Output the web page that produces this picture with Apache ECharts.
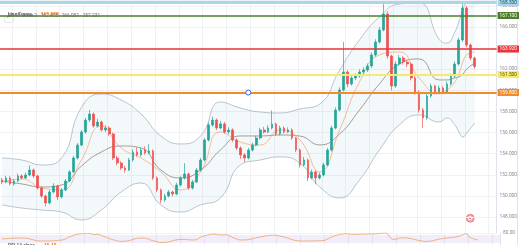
<!DOCTYPE html>
<html>
<head>
<meta charset="utf-8">
<script src="https://cdn.jsdelivr.net/npm/echarts@6/dist/echarts.min.js"></script>
<style>
  html, body { margin: 0; padding: 0; background: #fff; }
  .chart { width: 520px; height: 245px; }
</style>
</head>
<body>
<div class="chart"></div>
<script>
// candles (one per bar, left to right)
const opens = [
  151.50, 151.32, 151.70, 151.13, 151.41, 151.89, 151.70, 151.98, 152.45, 151.89,
  150.75, 149.99, 149.33, 150.37, 150.94, 149.90, 150.56, 151.41, 152.27, 153.59,
  154.82, 156.06, 157.19, 157.76, 156.63, 157.00, 156.25, 156.44, 155.87, 153.59,
  153.12, 152.64, 152.45, 153.40, 154.16, 153.88, 154.35, 154.07, 154.26, 151.70,
  150.56, 149.61, 149.99, 150.37, 150.18, 151.03, 151.70, 152.08, 150.75, 151.32,
  152.45, 153.40, 155.30, 156.72, 157.19, 156.44, 156.82, 156.06, 156.25, 155.30,
  154.54, 153.88, 153.59, 154.35, 154.82, 155.49, 156.25, 156.06, 156.44, 156.82,
  155.87, 156.44, 156.06, 156.25, 155.49, 154.35, 152.93, 153.40, 151.70, 152.27,
  151.70, 151.98, 152.93, 154.35, 156.44, 158.14, 160.04, 161.74, 160.61, 161.18,
  161.36, 161.74, 161.93, 162.31, 163.36, 164.59, 165.73, 167.24, 163.26, 160.42,
  162.50, 163.07, 162.69, 162.50, 161.18, 159.85, 158.14, 157.38, 159.47, 160.42,
  159.85, 160.23, 159.85, 160.61, 161.36, 162.50, 164.78, 167.81, 164.30, 163.07
];
const closes = [
  151.32, 151.70, 151.13, 151.41, 151.89, 151.70, 151.98, 152.45, 151.89, 150.75,
  149.99, 149.33, 150.37, 150.94, 149.90, 150.56, 151.41, 152.27, 153.59, 154.82,
  156.06, 157.19, 157.76, 156.63, 157.00, 156.25, 156.44, 155.87, 153.59, 153.12,
  152.64, 152.45, 153.40, 154.16, 153.88, 154.35, 154.07, 154.26, 151.70, 150.56,
  149.61, 149.99, 150.37, 150.18, 151.03, 151.70, 152.08, 150.75, 151.32, 152.45,
  153.40, 155.30, 156.72, 157.19, 156.44, 156.82, 156.06, 156.25, 155.30, 154.54,
  153.88, 153.59, 154.35, 154.82, 155.49, 156.25, 156.06, 156.44, 156.82, 155.87,
  156.44, 156.06, 156.25, 155.49, 154.35, 152.93, 153.40, 151.70, 152.27, 151.70,
  151.98, 152.93, 154.35, 156.44, 158.14, 160.04, 161.74, 160.61, 161.18, 161.36,
  161.74, 161.93, 162.31, 163.36, 164.59, 165.73, 167.24, 163.26, 160.42, 162.50,
  163.07, 162.69, 162.50, 161.18, 159.85, 158.14, 157.38, 159.47, 160.42, 159.85,
  160.23, 159.85, 160.61, 161.36, 162.50, 164.78, 167.81, 164.30, 163.07, 162.26
];
const highs = [
  151.70, 151.90, 151.85, 151.60, 152.10, 152.05, 152.20, 152.90, 152.60, 152.00,
  150.90, 150.10, 150.55, 151.20, 151.05, 150.75, 151.60, 152.45, 153.80, 155.00,
  156.25, 157.40, 158.15, 157.90, 157.30, 157.15, 156.70, 156.60, 156.00, 153.80,
  153.30, 152.85, 153.60, 154.40, 154.60, 154.55, 154.70, 154.90, 154.40, 151.85,
  150.70, 150.20, 150.55, 150.50, 151.25, 151.90, 153.10, 152.20, 151.50, 152.65,
  153.60, 155.50, 156.95, 157.50, 157.35, 157.10, 157.00, 156.50, 156.40, 155.45,
  154.70, 154.05, 154.55, 155.05, 155.70, 156.45, 156.55, 156.70, 158.10, 156.95,
  156.65, 156.60, 156.50, 156.40, 155.60, 154.50, 153.70, 153.55, 152.50, 152.40,
  152.20, 153.15, 154.55, 156.65, 158.40, 160.30, 164.60, 161.90, 161.45, 161.60,
  162.00, 162.20, 162.55, 163.60, 164.85, 166.00, 168.28, 167.50, 163.40, 162.75,
  163.35, 163.25, 162.90, 162.65, 161.35, 160.00, 158.35, 159.70, 160.65, 160.55,
  160.45, 160.40, 160.85, 161.60, 162.75, 165.00, 168.38, 168.00, 164.45, 163.20
];
const lows = [
  151.10, 151.20, 151.00, 150.95, 151.30, 151.55, 151.60, 151.85, 151.70, 150.60,
  149.80, 149.00, 149.20, 150.25, 149.60, 149.75, 150.45, 151.30, 152.15, 153.45,
  154.70, 155.90, 157.00, 156.45, 156.50, 156.10, 156.05, 155.70, 153.40, 152.90,
  152.45, 152.20, 152.35, 153.25, 153.70, 153.75, 153.90, 153.95, 151.50, 150.35,
  149.30, 149.45, 149.85, 149.95, 150.05, 150.90, 151.55, 150.55, 150.60, 151.20,
  152.30, 153.25, 155.15, 156.55, 156.25, 156.30, 155.90, 155.85, 155.10, 154.35,
  153.50, 153.20, 153.45, 154.20, 154.70, 155.35, 155.90, 155.95, 156.30, 155.70,
  155.75, 155.90, 155.95, 155.30, 154.15, 152.70, 152.80, 151.40, 151.55, 151.10,
  151.55, 151.85, 152.80, 154.20, 156.30, 158.00, 159.90, 160.30, 160.45, 161.00,
  161.20, 161.55, 161.75, 162.15, 163.20, 164.45, 165.60, 163.00, 160.00, 160.25,
  162.35, 162.45, 162.20, 160.95, 159.60, 157.90, 156.45, 157.20, 159.30, 159.60,
  159.70, 159.65, 159.70, 160.45, 161.20, 162.35, 164.60, 164.10, 162.85, 162.05
];

// bollinger band + fast average, sampled at these bar indices
const bandIdx = [0, 5, 10, 15, 20, 25, 30, 35, 40, 45, 50, 55, 60, 65, 70, 75, 80, 85, 90, 95, 100, 105, 110, 112, 114, 115, 116, 117, 119];
const bbUpper = [153.59, 153.40, 152.93, 153.59, 158.39, 159.66, 159.09, 157.76, 155.68, 154.92, 155.68, 158.90, 158.33, 157.95, 157.86, 158.24, 158.71, 161.93, 164.78, 166.96, 168.19, 168.28, 164.87, 164.49, 165.54, 166.48, 167.62, 168.28, 168.38];
const bbLower = [149.14, 148.85, 148.66, 148.47, 147.72, 148.66, 150.37, 151.22, 149.14, 148.47, 149.14, 149.80, 152.93, 153.40, 153.69, 153.10, 150.84, 149.80, 151.51, 154.35, 156.72, 157.67, 157.00, 157.38, 156.72, 156.06, 155.58, 155.96, 156.91];
const bbBasis = [151.41, 151.13, 150.84, 151.03, 152.83, 154.16, 154.73, 154.54, 152.45, 151.70, 152.45, 154.35, 155.68, 155.68, 155.77, 155.67, 154.83, 155.87, 158.14, 160.61, 162.50, 162.98, 160.99, 160.99, 161.18, 161.27, 161.55, 162.03, 162.60];
const fastMa = [151.32, 151.60, 150.75, 150.56, 153.40, 156.63, 154.54, 153.59, 152.27, 150.56, 152.27, 156.06, 155.11, 154.82, 156.25, 155.30, 152.27, 156.25, 160.80, 163.36, 163.64, 161.18, 159.66, 160.04, 160.80, 161.55, 162.69, 163.36, 163.64];

// RSI 14 (only the top of the pane is visible)
const rsiIdx = [0, 5, 10, 15, 17, 19, 20, 22, 23, 24, 25, 28, 30, 35, 38, 40, 45, 48, 50, 52, 53, 55, 56, 58, 60, 65, 68, 70, 75, 80, 83, 85, 86, 88, 90, 92, 94, 96, 97, 98, 100, 105, 106, 110, 114, 115, 116, 117, 119];
const rsiVals = [50, 55, 40, 45, 62, 74, 76, 77, 72, 73, 66, 45, 38, 55, 40, 32, 48, 45, 62, 72, 74, 70, 71, 55, 45, 62, 69, 62, 40, 42, 65, 74, 76, 73, 74, 75, 77, 80, 58, 48, 56, 40, 38, 52, 62, 70, 76, 58, 45.45];

// horizontal levels drawn by hand on the chart
const levels = [
  { value: 168.33, color: '#a9d7ea', width: 3, text: '#1f4e63' },
  { value: 167.10, color: '#4b7f2a', width: 1.5, text: '#fff' },
  { value: 163.92, color: '#e8343b', width: 1.5, text: '#fff' },
  { value: 161.50, color: '#f6ea6e', width: 2, text: '#5a5200' },
  { value: 159.80, color: '#f08c2a', width: 2, text: '#fff' }
];
const lastPrice = 162.26;
const countdown = '13:05:23';
const bbLegend = ['162.455', '166.051', '157.231'];
const totalBars = 125;

const categories = Array.from({ length: totalBars }, (_, i) => String(i));
const FONT = 'Roboto';

function pairs(idx, vals) {
  return idx.map((x, k) => [x, vals[k]]);
}

function init(className) {
  const dom = document.getElementsByClassName(className)[0];
  const chart = echarts.init(dom, null, { renderer: 'canvas' });

  const candleData = opens.map((o, i) => [o, closes[i], lows[i], highs[i]]);
  // band fill = lower + (upper - lower), stacked
  const bandWidth = bbUpper.map((u, k) => +(u - bbLower[k]).toFixed(2));

  const levelLines = levels.map(l => ({
    yAxis: l.value,
    lineStyle: { color: l.color, width: l.width, type: 'solid' },
    label: {
      show: true, position: 'end', distance: 1,
      formatter: l.value.toFixed(3),
      color: l.text, backgroundColor: l.color,
      fontSize: 4.8, fontFamily: FONT, padding: [1, 2]
    }
  }));
  levelLines.push({
    yAxis: lastPrice,
    lineStyle: { opacity: 0 },
    label: {
      show: true, position: 'end', distance: 1,
      formatter: lastPrice.toFixed(3) + '\n' + countdown,
      color: '#fff', backgroundColor: '#ef5a64',
      fontSize: 4.8, lineHeight: 5.5, fontFamily: FONT, padding: [1, 2]
    }
  });

  const thin = { symbol: 'none', smooth: true, silent: true };

  const option = {
    animation: false,
    backgroundColor: '#fff',
    textStyle: { fontFamily: FONT },
    title: [
      {
        left: 3, top: 1,
        text: '{a|Line Frame}  {b|163.930}',
        textStyle: {
          rich: {
            a: { fontSize: 4.8, color: '#6b6b6b', fontFamily: FONT },
            b: { fontSize: 4.8, color: '#f08c2a', fontFamily: FONT }
          }
        }
      },
      {
        left: 3, top: 8,
        text: 'BB 20 close 2   ' + bbLegend.join('   '),
        textStyle: { fontSize: 4.8, color: '#6b6b6b', fontWeight: 'normal', fontFamily: FONT }
      },
      {
        left: 3, top: 232,
        text: '{a|RSI 14 close}  {b|45.45}',
        textStyle: {
          rich: {
            a: { fontSize: 4.8, color: '#6b6b6b', fontFamily: FONT },
            b: { fontSize: 4.8, color: '#f08c2a', fontFamily: FONT }
          }
        }
      }
    ],
    grid: [
      { left: 0, right: 20, top: 0, height: 233 },
      { left: 0, right: 20, top: 233, height: 36 }
    ],
    xAxis: [
      {
        type: 'category', data: categories, gridIndex: 0, boundaryGap: true,
        axisLine: { show: false }, axisTick: { show: false }, axisLabel: { show: false },
        splitLine: { show: true, interval: i => i % 6 === 3, lineStyle: { color: '#f0f1f3', width: 1 } }
      },
      {
        type: 'category', data: categories, gridIndex: 1, boundaryGap: true,
        axisLine: { show: false }, axisTick: { show: false }, axisLabel: { show: false },
        splitLine: { show: true, interval: i => i % 6 === 3, lineStyle: { color: '#f0f1f3', width: 1 } }
      }
    ],
    yAxis: [
      {
        type: 'value', gridIndex: 0, position: 'right', scale: true,
        min: 146.48, max: 168.57, splitNumber: 11,
        axisLine: { show: true, lineStyle: { color: '#e0e3eb' } },
        axisTick: { show: false },
        axisLabel: {
          margin: 3, fontSize: 4.8, color: '#8a8a8a', fontFamily: FONT,
          showMinLabel: false, showMaxLabel: false,
          formatter: v => (Math.abs(v - Math.round(v)) < 1e-6 ? v.toFixed(3) : '')
        },
        splitLine: { show: true, lineStyle: { color: '#f0f1f3', width: 1 } }
      },
      {
        type: 'value', gridIndex: 1, position: 'right',
        min: 20, max: 80, interval: 10,
        axisLine: { show: true, lineStyle: { color: '#e0e3eb' } },
        axisTick: { show: false },
        axisLabel: {
          margin: 3, fontSize: 4.8, color: '#8a8a8a', fontFamily: FONT,
          formatter: v => (v === 80 ? '80.00' : '')
        },
        splitLine: { show: false }
      }
    ],
    series: [
      {
        name: 'bbLower', type: 'line', data: pairs(bandIdx, bbLower), stack: 'bb', ...thin,
        lineStyle: { color: '#a8b5c2', width: 0.8 }, z: 1
      },
      {
        name: 'bbFill', type: 'line', data: pairs(bandIdx, bandWidth), stack: 'bb', ...thin,
        lineStyle: { opacity: 0 }, areaStyle: { color: 'rgba(120,170,210,0.12)' }, z: 1
      },
      {
        name: 'bbUpper', type: 'line', data: pairs(bandIdx, bbUpper), ...thin,
        lineStyle: { color: '#a8b5c2', width: 0.8 }, z: 1
      },
      {
        name: 'bbBasis', type: 'line', data: pairs(bandIdx, bbBasis), ...thin,
        lineStyle: { color: '#8f8580', width: 0.8 }, z: 1
      },
      {
        name: 'fast', type: 'line', data: pairs(bandIdx, fastMa), ...thin,
        lineStyle: { color: '#f2a46f', width: 0.7 }, z: 1
      },
      {
        name: 'price', type: 'candlestick', data: candleData, barWidth: 2.2, silent: true, z: 3,
        clip: false,
        itemStyle: {
          color: '#26a69a', color0: '#ef5350',
          borderColor: '#26a69a', borderColor0: '#ef5350', borderWidth: 0.7
        },
        markLine: { silent: true, symbol: ['none', 'none'], precision: 3, data: levelLines, z: 5 },
        markPoint: {
          silent: true, symbol: 'circle', symbolSize: 5,
          itemStyle: { color: '#fff', borderColor: '#2962ff', borderWidth: 1 },
          label: { show: false },
          data: [{ coord: [62, levels[4].value] }]
        }
      },
      {
        name: 'rsi', type: 'line', xAxisIndex: 1, yAxisIndex: 1, data: pairs(rsiIdx, rsiVals), ...thin,
        lineStyle: { color: '#e4a766', width: 0.8 },
        markArea: {
          silent: true,
          itemStyle: { color: 'rgba(156,100,210,0.12)' },
          data: [[{ yAxis: 30 }, { yAxis: 70 }]]
        }
      }
    ],
    graphic: [
      // collapse button under the legend
      {
        type: 'rect', left: 4, top: 16, shape: { width: 9, height: 6, r: 1 },
        style: { fill: '#fff', stroke: '#cfd3da', lineWidth: 0.6 }
      },
      {
        type: 'text', left: 6.5, top: 16.5,
        style: { text: '^', fontSize: 5, fill: '#777', fontFamily: FONT }
      },
      // replay icon at the bottom right
      {
        type: 'circle', left: 466, top: 214, shape: { r: 4 },
        style: { fill: '#f3a6ae', stroke: '#e05a66', lineWidth: 0.6 }
      },
      {
        type: 'circle', left: 468, top: 216, shape: { r: 2 },
        style: { fill: '#fff' }
      },
      {
        type: 'circle', left: 469, top: 217, shape: { r: 1 },
        style: { fill: '#e05a66' }
      },
      // outer border of the price scale
      {
        type: 'line', shape: { x1: 517.5, y1: 0, x2: 517.5, y2: 245 },
        style: { stroke: '#e0e3eb', lineWidth: 1 }
      }
    ]
  };

  chart.setOption(option);
  return chart;
}

init('chart');
</script>
</body>
</html>
